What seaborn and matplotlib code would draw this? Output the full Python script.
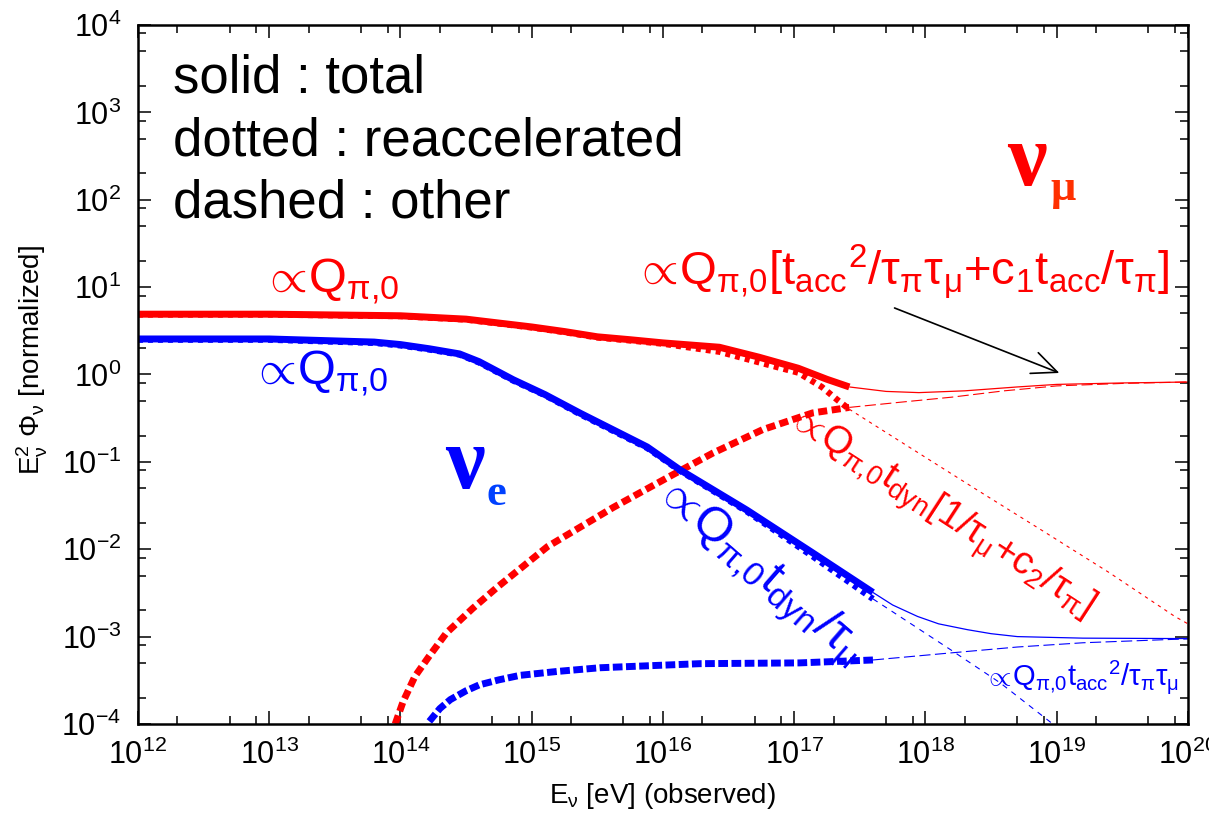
import numpy as np
import pandas as pd
import seaborn as sns
import matplotlib.pyplot as plt
from matplotlib.ticker import FixedLocator, NullFormatter

# ------------------------------------------------------------------
# Values: log10(E / eV) and E^2 Phi (normalized)
# ------------------------------------------------------------------
# nu_mu (red)
mu_total_logE = [12.0, 13.0, 14.0, 14.5, 15.0, 15.25, 15.5, 15.75, 16.0, 16.43, 16.73, 17.03, 17.25, 17.42]
mu_total_flux = [4.9, 4.9, 4.7, 4.3, 3.5, 3.1, 2.7, 2.5, 2.3, 2.05, 1.58, 1.18, 0.88, 0.72]
mu_total_hi_logE = [17.42, 17.7, 17.95, 18.3, 18.7, 19.0, 19.5, 20.0]
mu_total_hi_flux = [0.72, 0.64, 0.62, 0.65, 0.72, 0.77, 0.80, 0.82]

mu_decl_logE = [12.0, 13.0, 14.0, 14.5, 15.0, 15.25, 15.5, 15.75, 16.0, 16.43, 16.73, 17.03, 17.21, 17.33, 17.42]
mu_decl_flux = [4.85, 4.85, 4.65, 4.25, 3.45, 3.05, 2.65, 2.45, 2.25, 1.82, 1.38, 1.05, 0.72, 0.51, 0.40]
mu_decl_hi_logE = [17.42, 17.9, 18.4, 18.9, 19.4, 19.9, 20.0]
mu_decl_hi_flux = [0.40, 0.14, 0.047, 0.016, 0.0054, 0.0017, 0.0014]

mu_rise_logE = [13.96, 14.02, 14.11, 14.22, 14.35, 14.55, 14.74, 15.12, 15.62, 16.05, 16.38, 16.76, 17.14, 17.42]
mu_rise_flux = [1.0e-4, 1.8e-4, 3.5e-4, 6.0e-4, 1.1e-3, 2.1e-3, 3.7e-3, 0.0107, 0.030, 0.068, 0.126, 0.234, 0.363, 0.42]
mu_rise_hi_logE = [17.42, 17.8, 18.2, 18.6, 19.0, 19.5, 20.0]
mu_rise_hi_flux = [0.42, 0.48, 0.55, 0.65, 0.74, 0.79, 0.82]

# nu_e (blue)
e_total_logE = [12.0, 13.0, 13.8, 14.0, 14.22, 14.45, 14.6, 14.86, 15.1, 15.37, 15.88, 16.13, 16.64, 17.14, 17.6]
e_total_flux = [2.55, 2.55, 2.35, 2.2, 1.97, 1.72, 1.4, 0.87, 0.59, 0.36, 0.148, 0.081, 0.028, 0.0091, 0.0032]
e_total_hi_logE = [17.6, 17.75, 17.94, 18.1, 18.32, 18.5, 18.7, 19.2, 19.89, 20.0]
e_total_hi_flux = [0.0032, 0.0023, 0.0017, 0.0014, 0.0012, 0.00108, 1.0e-3, 0.96e-3, 0.95e-3, 0.95e-3]

e_decl_logE = [12.0, 13.0, 13.8, 14.0, 14.22, 14.45, 14.6, 14.86, 15.1, 15.37, 15.88, 16.13, 16.64, 17.14, 17.6]
e_decl_flux = [2.5, 2.5, 2.3, 2.15, 1.93, 1.69, 1.37, 0.85, 0.58, 0.35, 0.144, 0.079, 0.027, 0.0083, 0.0027]
e_decl_hi_logE = [17.6, 18.19, 18.57, 18.97]
e_decl_hi_flux = [0.0027, 7.1e-4, 2.95e-4, 1.0e-4]

e_rise_logE = [14.22, 14.3, 14.38, 14.5, 14.6, 14.75, 14.91, 15.2, 15.52, 16.28, 17.04, 17.6]
e_rise_flux = [1.07e-4, 1.5e-4, 1.9e-4, 2.4e-4, 2.8e-4, 3.2e-4, 3.6e-4, 4.0e-4, 4.4e-4, 4.9e-4, 5.0e-4, 5.4e-4]
e_rise_hi_logE = [17.6, 18.19, 18.7, 19.2, 19.89, 20.0]
e_rise_hi_flux = [5.4e-4, 6.5e-4, 7.6e-4, 8.5e-4, 9.3e-4, 9.4e-4]

# axis ranges and ticks (decades, minor ticks at 2, 5, 8)
x_decades = list(range(12, 21))
y_decades = list(range(-4, 5))
minor_subs = [2, 5, 8]

RED = '#ff0000'
BLUE = '#0000ff'

sns.set_style("ticks")
plt.rcParams['font.family'] = ['Liberation Sans', 'DejaVu Sans']
plt.rcParams['mathtext.fontset'] = 'custom'
plt.rcParams['mathtext.rm'] = 'Liberation Sans'
plt.rcParams['mathtext.it'] = 'Liberation Sans'
plt.rcParams['mathtext.bf'] = 'Liberation Sans:bold'
plt.rcParams['axes.unicode_minus'] = False
for key in ['text.color', 'axes.labelcolor', 'xtick.color', 'ytick.color', 'axes.edgecolor']:
    plt.rcParams[key] = 'black'

fig = plt.figure(figsize=(12.09, 8.14), dpi=100)
ax = fig.add_axes([0.1141, 0.1106, 0.8685, 0.8587])
ax.set_xscale('log')
ax.set_yscale('log')


def draw(logE, flux, color, lw, ls):
    df = pd.DataFrame({'E': 10 ** np.asarray(logE), 'flux': flux})
    sns.lineplot(data=df, x='E', y='flux', color=color, linewidth=lw,
                 linestyle=ls, sort=False, estimator=None, ax=ax,
                 solid_capstyle='butt', dash_capstyle='butt')


# thin continuations (after the thick part ends)
draw(mu_decl_hi_logE, mu_decl_hi_flux, RED, 0.8, (0, (3, 4)))
draw(mu_rise_hi_logE, mu_rise_hi_flux, RED, 0.8, (0, (10, 4)))
draw(e_decl_hi_logE, e_decl_hi_flux, BLUE, 0.8, (0, (5, 5)))
draw(e_rise_hi_logE, e_rise_hi_flux, BLUE, 0.8, (0, (10, 4)))

# thick reaccelerated / other components
draw(mu_rise_logE, mu_rise_flux, RED, 5, (0, (1.3, 0.65)))
draw(e_rise_logE, e_rise_flux, BLUE, 5, (0, (1.4, 0.5)))
draw(mu_decl_logE, mu_decl_flux, RED, 4.5, (0, (0.8, 0.8)))
draw(e_decl_logE, e_decl_flux, BLUE, 4.5, (0, (0.8, 0.8)))

# totals
draw(mu_total_hi_logE, mu_total_hi_flux, RED, 0.9, '-')
draw(e_total_hi_logE, e_total_hi_flux, BLUE, 0.9, '-')
draw(mu_total_logE, mu_total_flux, RED, 5, '-')
draw(e_total_logE, e_total_flux, BLUE, 5, '-')

ax.set_xlim(10.0 ** x_decades[0], 10.0 ** x_decades[-1])
ax.set_ylim(10.0 ** y_decades[0], 10.0 ** y_decades[-1])

# axes / ticks
ax.xaxis.set_major_locator(FixedLocator([10.0 ** d for d in x_decades]))
ax.yaxis.set_major_locator(FixedLocator([10.0 ** d for d in y_decades]))
ax.xaxis.set_minor_locator(FixedLocator([s * 10.0 ** d for d in x_decades[:-1] for s in minor_subs]))
ax.yaxis.set_minor_locator(FixedLocator([s * 10.0 ** d for d in y_decades[:-1] for s in minor_subs]))
ax.xaxis.set_minor_formatter(NullFormatter())
ax.yaxis.set_minor_formatter(NullFormatter())
ax.tick_params(which='both', direction='in', top=True, right=True)
ax.tick_params(which='major', length=9.5, width=1.1, labelsize=22)
ax.tick_params(which='minor', length=5.5, width=1.1)
ax.tick_params(axis='x', which='major', pad=11)
ax.tick_params(axis='y', which='major', pad=12)
for sp in ax.spines.values():
    sp.set_linewidth(1.8)

ax.set_xlabel(r'E$_{ν}$ [eV] (observed)', fontsize=20)
ax.set_ylabel(r'E$_{ν}^{2}$ Φ$_{ν}$ [normalized]', fontsize=20)
ax.xaxis.set_label_coords(0.5, -0.082)
ax.yaxis.set_label_coords(-0.084, 0.52)

# legend-like text block
tr = ax.transAxes
ax.text(0.0333, 0.9041, 'solid : total', fontsize=38, transform=tr)
ax.text(0.0333, 0.8140, 'dotted : reaccelerated', fontsize=38, transform=tr)
ax.text(0.0333, 0.7239, 'dashed : other', fontsize=38, transform=tr)

# annotations (\! removes the relation spacing around the proportional sign)
PROP = r'$\!\propto\!$'
ax.text(0.1238, 0.6166, PROP + r'Q$_{π{,}0}$', fontsize=35, color=RED, transform=tr)
ax.text(0.1133, 0.4850, PROP + r'Q$_{π{,}0}$', fontsize=35, color=BLUE, transform=tr)
ax.text(0.4781, 0.6280, PROP + r'Q$_{π{,}0}$[t$_{acc}$$^{2}$/τ$_{π}$τ$_{μ}$+c$_{1}$t$_{acc}$/τ$_{π}$]',
        fontsize=34, color=RED, transform=tr)
ax.text(0.8095, 0.0558, PROP + r'Q$_{π{,}0}$t$_{acc}$$^{2}$/τ$_{π}$τ$_{μ}$',
        fontsize=21, color=BLUE, transform=tr)
ax.text(0.4952, 0.3247, PROP + r'Q$_{π{,}0}$t$_{dyn}$/τ$_{μ}$', fontsize=35, color=BLUE,
        rotation=-41, rotation_mode='anchor', ha='left', va='baseline', transform=tr)
ax.text(0.6210, 0.4278, PROP + r'Q$_{π{,}0}$t$_{dyn}$[1/τ$_{μ}$+c$_{2}$/τ$_{π}$]', fontsize=28, color=RED,
        rotation=-33, rotation_mode='anchor', ha='left', va='baseline', transform=tr)

# big neutrino flavour labels
serif = ['Liberation Serif', 'DejaVu Serif']
ax.text(0.2924, 0.3376, 'ν', fontsize=64, fontweight='bold', family=serif, color=BLUE, transform=tr)
ax.text(0.3324, 0.3133, 'e', fontsize=32, fontweight='bold', family=serif, color='#0040ff', transform=tr)
ax.text(0.8276, 0.7711, 'ν', fontsize=64, fontweight='bold', family=serif, color=RED, transform=tr)
ax.text(0.8686, 0.7496, 'μ', fontsize=32, fontweight='bold', family=serif, color='#ff3000', transform=tr)

# arrow pointing at the high-energy total
ax.annotate('', xy=(0.880, 0.5007), xytext=(0.7181, 0.5966), xycoords=tr, textcoords=tr,
            arrowprops=dict(arrowstyle='->, head_length=0.9, head_width=0.4',
                            color='black', lw=1.2, mutation_scale=20))

fig.savefig('out.png', dpi=100)
